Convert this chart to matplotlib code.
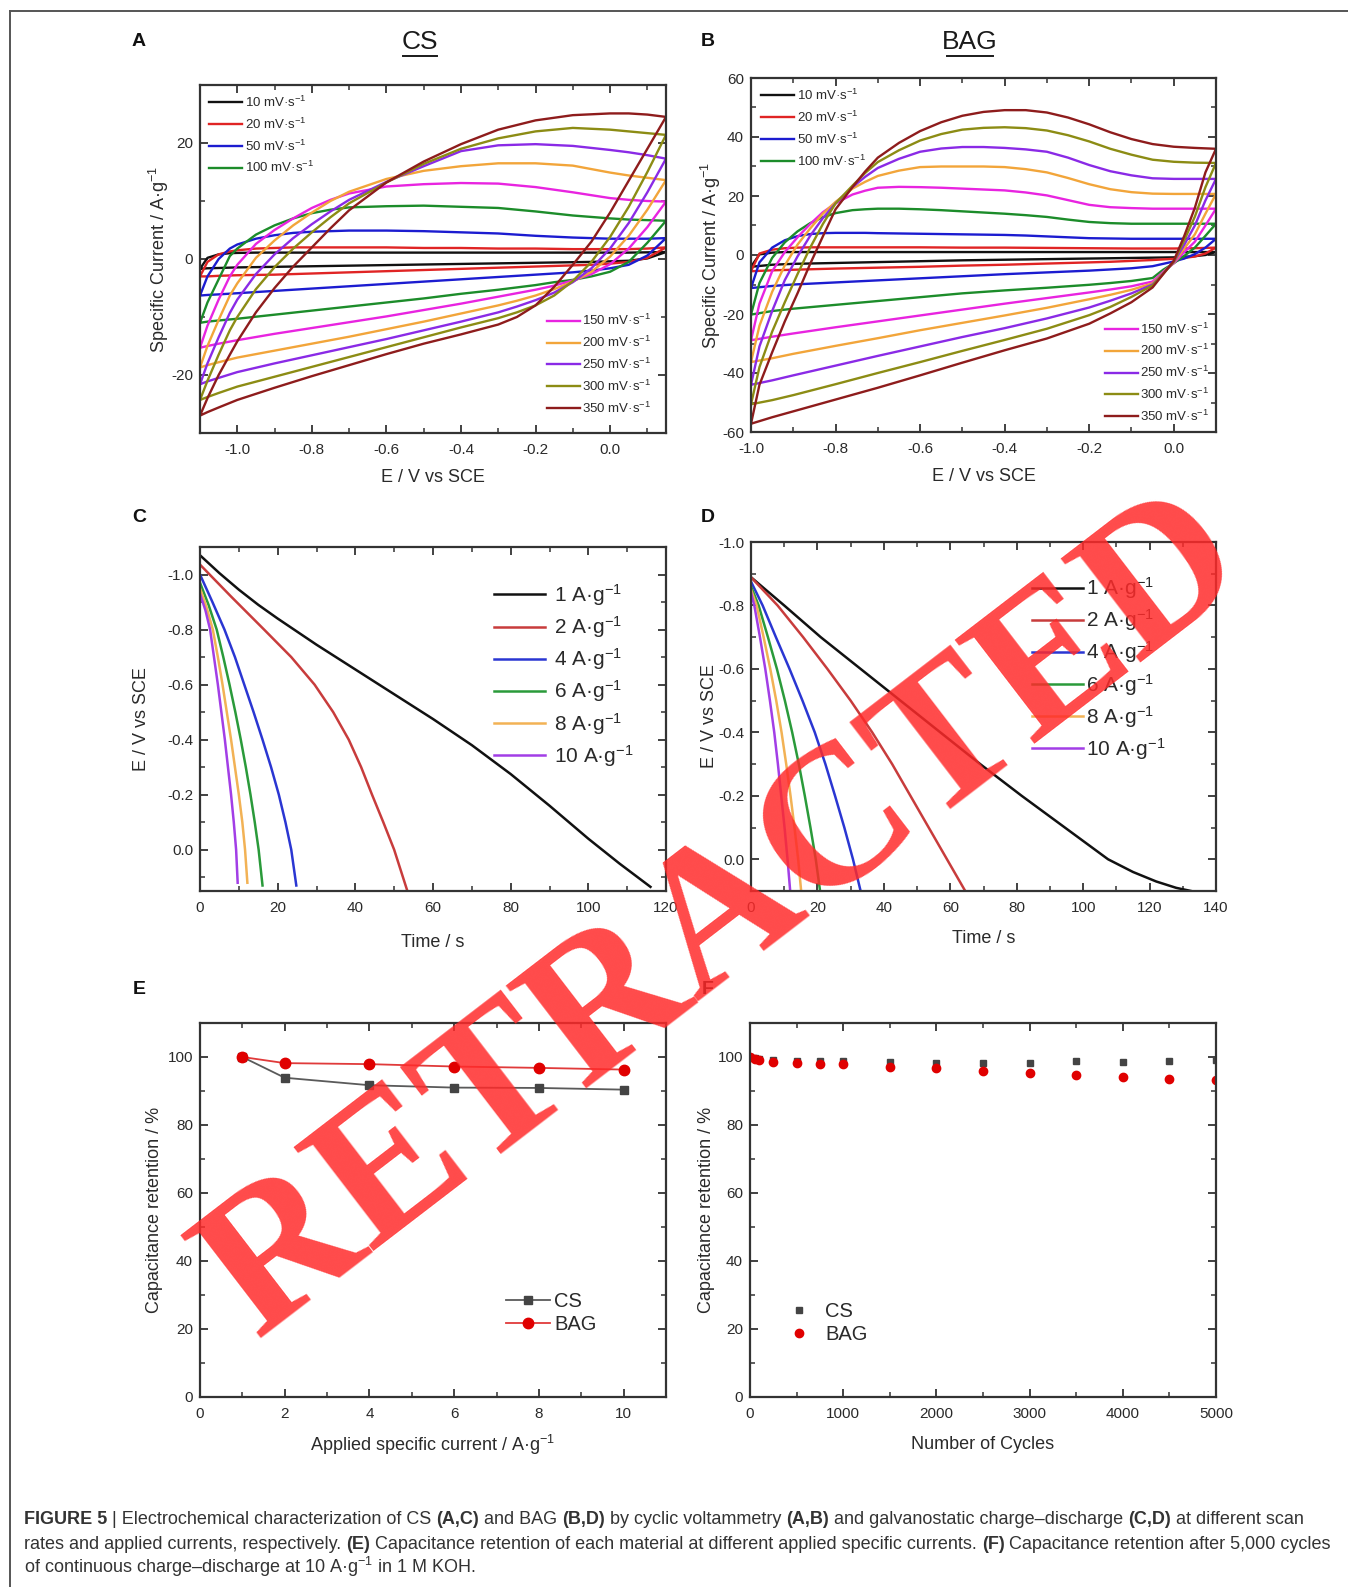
import matplotlib
matplotlib.use('Agg')
import matplotlib.pyplot as plt
from matplotlib.ticker import MultipleLocator, FormatStrFormatter
from matplotlib.lines import Line2D

plt.rcParams['font.family'] = ['Liberation Sans', 'DejaVu Sans']
plt.rcParams['axes.unicode_minus'] = False
plt.rcParams['mathtext.fontset'] = 'custom'
plt.rcParams['mathtext.rm'] = 'Liberation Sans'
plt.rcParams['mathtext.it'] = 'Liberation Sans:italic'
plt.rcParams['mathtext.bf'] = 'Liberation Sans:bold'

# ---------------- data ----------------
SCAN_RATES = [10, 20, 50, 100, 150, 200, 250, 300, 350]
CV_COLORS = ['#111111', '#e02424', '#1c1cd0', '#1c8c2a', '#e824e0', '#f2a53a', '#8a2ae6', '#8c8c14', '#8e1c1c']

# Panel A (CS) cyclic voltammetry
A_V_FWD = [-1.10, -1.08, -1.05, -1.02, -1.00, -0.95, -0.90, -0.85, -0.80, -0.75, -0.70,
           -0.60, -0.50, -0.40, -0.30, -0.20, -0.10, 0.00, 0.05, 0.10, 0.15]
A_V_REV = [0.15, 0.10, 0.05, 0.00, -0.05, -0.10, -0.15, -0.20, -0.25, -0.30, -0.40,
           -0.50, -0.60, -0.70, -0.80, -0.90, -1.00, -1.05, -1.08, -1.10]
A_FWD_10 = [-1.7, 0.2, 0.8, 1.0, 1.05, 1.1, 1.1, 1.1, 1.1, 1.1, 1.1, 1.1, 1.1, 1.1, 1.1, 1.1, 1.1, 1.1, 1.1, 1.15, 1.2]
A_FWD_20 = [-3.0, -0.5, 0.8, 1.3, 1.5, 1.8, 1.9, 2.0, 2.0, 2.0, 2.0, 2.0, 1.9, 1.9, 1.8, 1.8, 1.7, 1.7, 1.7, 1.8, 2.0]
A_FWD_50 = [-6.3, -3.0, 0.0, 1.8, 2.5, 3.5, 4.1, 4.5, 4.7, 4.8, 4.9, 4.9, 4.8, 4.6, 4.4, 4.0, 3.7, 3.5, 3.5, 3.5, 3.6]
A_FWD_100 = [-11.0, -7.5, -3.5, 0.5, 1.8, 4.2, 5.8, 7.0, 7.9, 8.5, 8.9, 9.1, 9.2, 9.0, 8.8, 8.2, 7.5, 7.0, 6.8, 6.7, 6.6]
A_FWD_150 = [-15.3, -11.5, -7.0, -3.0, -1.0, 2.6, 5.0, 7.0, 8.8, 10.2, 11.3, 12.5, 12.9, 13.1, 13.0, 12.4, 11.5, 10.5, 10.2, 10.0, 9.9]
A_FWD_200 = [-18.7, -15.0, -10.5, -6.3, -4.2, 0.2, 3.2, 5.8, 8.0, 10.0, 11.6, 13.8, 15.2, 16.0, 16.5, 16.5, 16.1, 14.9, 14.4, 14.0, 13.6]
A_FWD_250 = [-21.6, -18.0, -13.5, -9.3, -7.0, -2.6, 0.8, 3.6, 6.0, 8.2, 10.2, 13.3, 16.0, 18.6, 19.6, 19.8, 19.5, 18.8, 18.4, 17.9, 17.3]
A_FWD_300 = [-24.3, -21.0, -16.5, -12.3, -10.0, -5.2, -1.4, 1.8, 4.6, 7.2, 9.6, 13.2, 16.4, 19.0, 20.8, 22.0, 22.6, 22.3, 22.0, 21.7, 21.4]
A_FWD_350 = [-27.0, -24.0, -20.0, -16.5, -14.2, -9.2, -5.0, -1.3, 2.0, 5.3, 8.4, 13.2, 16.8, 19.8, 22.3, 23.9, 24.8, 25.1, 25.1, 24.9, 24.5]
A_REV_10 = [1.2, 0.1, -0.3, -0.4, -0.5, -0.55, -0.6, -0.65, -0.7, -0.75, -0.85, -0.95, -1.05, -1.15, -1.25, -1.35, -1.45, -1.55, -1.6, -1.7]
A_REV_20 = [2.0, 0.2, -0.5, -0.8, -1.0, -1.1, -1.2, -1.3, -1.4, -1.5, -1.7, -1.9, -2.1, -2.3, -2.5, -2.7, -2.8, -2.9, -3.0, -3.0]
A_REV_50 = [3.6, 0.6, -1.0, -1.6, -2.0, -2.3, -2.5, -2.7, -2.9, -3.1, -3.5, -3.9, -4.3, -4.7, -5.1, -5.5, -5.9, -6.1, -6.2, -6.3]
A_REV_100 = [6.6, 2.8, -0.5, -2.2, -3.0, -3.6, -4.0, -4.5, -4.9, -5.3, -6.0, -6.8, -7.5, -8.2, -8.9, -9.6, -10.3, -10.6, -10.8, -11.0]
A_REV_150 = [9.9, 5.5, 1.8, -0.9, -2.6, -3.7, -4.6, -5.3, -5.9, -6.5, -7.7, -8.8, -9.9, -10.9, -11.9, -12.9, -14.0, -14.6, -15.0, -15.3]
A_REV_200 = [13.6, 8.5, 4.0, 0.4, -2.2, -3.9, -5.2, -6.3, -7.2, -8.0, -9.4, -10.8, -12.1, -13.4, -14.6, -15.8, -17.0, -17.8, -18.3, -18.7]
A_REV_250 = [17.3, 11.5, 6.2, 1.8, -1.6, -4.0, -5.8, -7.1, -8.2, -9.2, -10.8, -12.3, -13.8, -15.2, -16.6, -18.0, -19.5, -20.5, -21.1, -21.6]
A_REV_300 = [21.4, 15.0, 9.0, 3.8, -0.5, -3.8, -6.3, -8.0, -9.2, -10.2, -11.8, -13.5, -15.2, -16.9, -18.6, -20.3, -22.0, -23.1, -23.8, -24.3]
A_REV_350 = [24.5, 19.0, 13.5, 8.0, 3.0, -1.0, -4.8, -8.0, -10.0, -11.3, -13.0, -14.6, -16.4, -18.3, -20.2, -22.2, -24.3, -25.6, -26.4, -27.0]

# Panel B (BAG) cyclic voltammetry
B_V_FWD = [-1.00, -0.98, -0.95, -0.92, -0.89, -0.86, -0.83, -0.80, -0.76, -0.73, -0.70, -0.65, -0.60, -0.55,
           -0.50, -0.45, -0.40, -0.35, -0.30, -0.25, -0.20, -0.15, -0.10, -0.05, 0.00, 0.05, 0.10]
B_V_REV = [0.10, 0.075, 0.05, 0.025, 0.00, -0.025, -0.05, -0.10, -0.15, -0.20,
           -0.30, -0.40, -0.50, -0.60, -0.70, -0.80, -0.90, -0.95, -1.00]
B_FWD_10 = [-4.0, 0.2, 0.8, 1.0, 1.0, 1.0, 1.0, 1.0, 1.0, 1.0, 1.0, 1.0, 1.0, 1.0,
            1.0, 1.0, 1.0, 1.0, 1.0, 1.0, 1.0, 1.0, 1.0, 1.0, 1.0, 1.0, 1.0]
B_FWD_20 = [-5.5, 0.5, 1.8, 2.3, 2.5, 2.6, 2.6, 2.6, 2.6, 2.6, 2.6, 2.6, 2.6, 2.55,
            2.5, 2.5, 2.5, 2.45, 2.4, 2.35, 2.3, 2.25, 2.2, 2.2, 2.2, 2.3, 2.5]
B_FWD_50 = [-11.2, -2.5, 2.5, 5.0, 6.4, 7.1, 7.4, 7.5, 7.5, 7.5, 7.4, 7.3, 7.2, 7.1,
            7.0, 6.9, 6.8, 6.6, 6.3, 6.0, 5.7, 5.6, 5.5, 5.5, 5.5, 5.5, 5.5]
B_FWD_100 = [-20.2, -9.5, -1.0, 4.3, 8.0, 10.8, 12.8, 14.2, 15.2, 15.5, 15.7, 15.7, 15.5, 15.2,
             14.8, 14.4, 14.0, 13.5, 12.9, 12.0, 11.2, 10.8, 10.6, 10.6, 10.6, 10.6, 10.6]
B_FWD_150 = [-28.9, -16.5, -5.5, 1.0, 6.0, 10.5, 14.5, 17.5, 20.5, 21.8, 22.8, 23.1, 23.0, 22.8,
             22.5, 22.2, 21.9, 21.2, 20.2, 18.6, 17.0, 16.2, 15.9, 15.7, 15.7, 15.7, 15.7]
B_FWD_200 = [-36.3, -24.0, -12.5, -3.5, 3.5, 9.0, 14.0, 18.0, 22.5, 24.8, 26.8, 28.6, 29.8, 30.0,
             30.0, 30.0, 29.8, 29.1, 28.0, 26.1, 24.0, 22.3, 21.3, 20.8, 20.7, 20.7, 20.7]
B_FWD_250 = [-44.0, -31.0, -19.0, -8.5, -0.5, 6.5, 12.5, 17.5, 23.0, 26.5, 29.5, 32.6, 35.0, 36.1,
             36.6, 36.6, 36.3, 35.8, 35.0, 33.0, 30.5, 28.4, 27.0, 26.0, 25.8, 25.8, 25.8]
B_FWD_300 = [-50.6, -38.0, -26.0, -16.0, -6.5, 2.5, 10.5, 17.5, 23.5, 27.8, 31.5, 35.5, 38.8, 41.0,
             42.5, 43.1, 43.3, 43.0, 42.2, 40.6, 38.5, 36.0, 34.0, 32.3, 31.6, 31.3, 31.2]
B_FWD_350 = [-57.2, -44.0, -33.0, -22.5, -13.0, -3.0, 6.3, 15.5, 23.0, 28.3, 33.0, 38.0, 42.0, 45.0,
             47.2, 48.5, 49.1, 49.1, 48.3, 46.6, 44.3, 41.6, 39.3, 37.6, 36.7, 36.3, 36.0]
B_REV_10 = [1.0, 0.0, -0.4, -0.6, -0.8, -0.85, -0.9, -1.0, -1.1, -1.2, -1.4, -1.6, -1.8, -2.1, -2.4, -2.7, -3.0, -3.3, -4.0]
B_REV_20 = [2.5, 0.5, -0.5, -1.0, -1.3, -1.5, -1.7, -2.0, -2.3, -2.5, -2.9, -3.3, -3.6, -4.0, -4.3, -4.6, -5.0, -5.2, -5.5]
B_REV_50 = [5.5, 2.5, 0.3, -1.2, -2.2, -3.0, -3.8, -4.5, -4.9, -5.3, -5.9, -6.5, -7.2, -7.9, -8.6, -9.3, -10.0, -10.5, -11.2]
B_REV_100 = [10.6, 6.5, 2.5, -0.3, -2.8, -5.0, -7.8, -8.8, -9.5, -10.1, -11.1, -12.0, -13.0, -14.3, -15.6, -16.9, -18.2, -19.0, -20.2]
B_REV_150 = [15.7, 10.0, 4.5, 1.0, -2.8, -5.7, -9.0, -10.6, -11.7, -12.7, -14.6, -16.5, -18.5, -20.5, -22.5, -24.5, -26.6, -27.7, -28.9]
B_REV_200 = [20.7, 14.0, 7.0, 2.2, -2.6, -6.0, -9.6, -11.8, -13.5, -15.0, -17.9, -20.5, -23.0, -25.5, -28.2, -30.8, -33.5, -35.0, -36.3]
B_REV_250 = [25.8, 18.5, 10.0, 3.5, -2.5, -6.2, -10.0, -13.0, -15.5, -17.8, -21.5, -24.8, -27.8, -31.0, -34.2, -37.5, -40.8, -42.5, -44.0]
B_REV_300 = [31.2, 23.0, 13.0, 5.0, -2.3, -6.4, -10.3, -14.2, -17.6, -20.4, -25.0, -28.8, -32.5, -36.3, -40.0, -43.8, -47.5, -49.2, -50.6]
B_REV_350 = [36.0, 28.0, 16.0, 6.5, -2.0, -6.5, -11.0, -16.0, -19.8, -23.3, -28.3, -32.3, -36.5, -40.8, -45.0, -49.0, -53.0, -55.0, -57.2]

# Galvanostatic discharge
CURRENTS = [1, 2, 4, 6, 8, 10]
GCD_COLORS = ['#111111', '#c83c3c', '#2a36d2', '#2a9a3a', '#f2b255', '#a23ee6']
C_T_1 = [0, 5, 10, 15, 20, 30, 40, 50, 60, 70, 80, 90, 100, 108, 116]
C_E_1 = [-1.07, -1.005, -0.945, -0.89, -0.84, -0.745, -0.655, -0.565, -0.475, -0.38, -0.275, -0.16, -0.04, 0.05, 0.135]
C_T_2 = [0, 8, 16.5, 23.5, 29.5, 34.3, 38.3, 41.5, 44.3, 47.2, 50.0, 53.4]
C_E_2 = [-1.036, -0.92, -0.8, -0.7, -0.6, -0.5, -0.4, -0.3, -0.2, -0.1, 0.0, 0.15]
C_T_4 = [0, 3.2, 6.3, 9.0, 11.4, 13.8, 16.1, 18.3, 20.3, 22.0, 23.5, 24.8]
C_E_4 = [-1.0, -0.9, -0.8, -0.7, -0.6, -0.5, -0.4, -0.3, -0.2, -0.1, 0.0, 0.13]
C_T_6 = [0, 2.2, 4.3, 6.0, 7.6, 9.1, 10.5, 11.8, 13.0, 14.1, 15.1, 16.1]
C_E_6 = [-0.97, -0.89, -0.8, -0.7, -0.6, -0.5, -0.4, -0.3, -0.2, -0.1, 0.0, 0.13]
C_T_8 = [0, 1.7, 3.3, 4.6, 5.8, 6.9, 8.0, 9.0, 10.0, 10.9, 11.6, 12.2]
C_E_8 = [-0.95, -0.88, -0.8, -0.7, -0.6, -0.5, -0.4, -0.3, -0.2, -0.1, 0.0, 0.12]
C_T_10 = [0, 1.4, 2.6, 3.6, 4.6, 5.5, 6.4, 7.2, 8.0, 8.7, 9.3, 9.7]
C_E_10 = [-0.93, -0.87, -0.8, -0.7, -0.6, -0.5, -0.4, -0.3, -0.2, -0.1, 0.0, 0.12]

D_T_1 = [0, 10, 21, 33, 45, 57, 69, 81.5, 94.5, 107.5, 115, 122, 128, 132.5]
D_E_1 = [-0.889, -0.8, -0.7, -0.6, -0.5, -0.4, -0.3, -0.2, -0.1, 0.0, 0.04, 0.07, 0.09, 0.1]
D_T_2 = [0, 8, 15.7, 23, 30, 36.5, 42.5, 48, 53.5, 59, 64.5]
D_E_2 = [-0.889, -0.8, -0.7, -0.6, -0.5, -0.4, -0.3, -0.2, -0.1, 0.0, 0.1]
D_T_4 = [0, 3.5, 7.5, 11.6, 15.5, 19.2, 22.4, 25.3, 28.1, 30.7, 33.0]
D_E_4 = [-0.875, -0.8, -0.7, -0.6, -0.5, -0.4, -0.3, -0.2, -0.1, 0.0, 0.1]
D_T_6 = [0, 2.3, 5.1, 7.8, 10.2, 12.4, 14.4, 16.2, 17.9, 19.5, 20.8]
D_E_6 = [-0.86, -0.8, -0.7, -0.6, -0.5, -0.4, -0.3, -0.2, -0.1, 0.0, 0.1]
D_T_8 = [0, 1.7, 3.8, 5.8, 7.6, 9.2, 10.6, 11.9, 13.1, 14.2, 15.1]
D_E_8 = [-0.85, -0.8, -0.7, -0.6, -0.5, -0.4, -0.3, -0.2, -0.1, 0.0, 0.1]
D_T_10 = [0, 1.0, 2.7, 4.3, 5.7, 7.0, 8.1, 9.1, 10.1, 11.0, 11.8]
D_E_10 = [-0.84, -0.8, -0.7, -0.6, -0.5, -0.4, -0.3, -0.2, -0.1, 0.0, 0.1]

# Capacitance retention vs current
E_CURRENT = [1, 2, 4, 6, 8, 10]
E_CS = [100, 93.9, 91.7, 91.0, 90.9, 90.4]
E_BAG = [100, 98.2, 97.9, 97.2, 96.8, 96.3]

# Cycling stability
F_CYCLES = [0, 50, 100, 250, 500, 750, 1000, 1500, 2000, 2500, 3000, 3500, 4000, 4500, 5000]
F_CS = [100, 99.6, 99.3, 99.0, 98.9, 98.9, 98.8, 98.5, 98.2, 98.2, 98.2, 98.8, 98.6, 98.9, 99.2]
F_BAG = [100, 99.5, 99.2, 98.6, 98.1, 98.0, 97.9, 97.2, 96.8, 96.0, 95.3, 94.6, 94.1, 93.6, 93.1]

# ---------------- layout ----------------
W, H = 1348, 1587
fig = plt.figure(figsize=(W / 100, H / 100), dpi=100)
TXT = '#2a2a2a'


def rect(l, t, r, b):
    return [l / W, 1 - b / H, (r - l) / W, (b - t) / H]


def style(ax, xmaj, xmin, ymaj, ymin, fmtx=None, fmty=None):
    ax.xaxis.set_major_locator(MultipleLocator(xmaj))
    ax.xaxis.set_minor_locator(MultipleLocator(xmin))
    ax.yaxis.set_major_locator(MultipleLocator(ymaj))
    ax.yaxis.set_minor_locator(MultipleLocator(ymin))
    if fmtx:
        ax.xaxis.set_major_formatter(FormatStrFormatter(fmtx))
    if fmty:
        ax.yaxis.set_major_formatter(FormatStrFormatter(fmty))
    ax.tick_params(which='both', direction='in', top=True, right=True, colors='#333333',
                   labelcolor=TXT, labelsize=11)
    ax.tick_params(which='major', length=6, width=1.3, pad=5)
    ax.tick_params(axis='x', which='major', pad=7)
    ax.tick_params(which='minor', length=3.5, width=1.1)
    for s in ax.spines.values():
        s.set_linewidth(1.6)
        s.set_color('#333333')


def flabel(x, y, s):
    fig.text(x / W, 1 - y / H, s, fontsize=14, fontweight='bold', ha='center', va='center', color='#111111')


# --- A ---
axA = fig.add_axes(rect(200, 85, 666, 433))
A_FWD = [A_FWD_10, A_FWD_20, A_FWD_50, A_FWD_100, A_FWD_150, A_FWD_200, A_FWD_250, A_FWD_300, A_FWD_350]
A_REV = [A_REV_10, A_REV_20, A_REV_50, A_REV_100, A_REV_150, A_REV_200, A_REV_250, A_REV_300, A_REV_350]
hA = []
for rate, col, f, r in zip(SCAN_RATES, CV_COLORS, A_FWD, A_REV):
    ln, = axA.plot(A_V_FWD + A_V_REV, f + r, color=col, lw=1.7, label='%d mV·s$^{-1}$' % rate)
    hA.append(ln)
axA.set_xlim(-1.1, 0.15)
axA.set_ylim(-30, 30)
style(axA, 0.2, 0.1, 20, 10, fmtx='%.1f')
axA.set_xlabel('E / V vs SCE', fontsize=13, color=TXT, labelpad=9)
axA.set_ylabel('Specific Current / A·g$^{-1}$', fontsize=13, color=TXT, labelpad=0)

# --- B ---
axB = fig.add_axes(rect(751, 78, 1216, 432))
B_FWD = [B_FWD_10, B_FWD_20, B_FWD_50, B_FWD_100, B_FWD_150, B_FWD_200, B_FWD_250, B_FWD_300, B_FWD_350]
B_REV = [B_REV_10, B_REV_20, B_REV_50, B_REV_100, B_REV_150, B_REV_200, B_REV_250, B_REV_300, B_REV_350]
hB = []
for rate, col, f, r in zip(SCAN_RATES, CV_COLORS, B_FWD, B_REV):
    ln, = axB.plot(B_V_FWD + B_V_REV, f + r, color=col, lw=1.7, label='%d mV·s$^{-1}$' % rate)
    hB.append(ln)
axB.set_xlim(-1.0, 0.1)
axB.set_ylim(-60, 60)
style(axB, 0.2, 0.1, 20, 10, fmtx='%.1f')
axB.set_xlabel('E / V vs SCE', fontsize=13, color=TXT, labelpad=9)
axB.set_ylabel('Specific Current / A·g$^{-1}$', fontsize=13, color=TXT, labelpad=-1)

for ax, h, up, lo in [(axA, hA, (0.020, 0.972), (0.744, 0.05)), (axB, hB, (0.0215, 0.972), (0.761, 0.023))]:
    l1 = ax.legend(h[:4], [x.get_label() for x in h[:4]], loc='upper left', bbox_to_anchor=up,
                   frameon=False, fontsize=9.5, handlelength=2.5, handletextpad=0.2,
                   labelspacing=0.5, borderpad=0, borderaxespad=0, labelcolor=TXT)
    ax.add_artist(l1)
    ax.legend(h[4:], [x.get_label() for x in h[4:]], loc='lower left', bbox_to_anchor=lo,
              frameon=False, fontsize=9.5, handlelength=2.5, handletextpad=0.2,
              labelspacing=0.5, borderpad=0, borderaxespad=0, labelcolor=TXT)

# --- C ---
axC = fig.add_axes(rect(200, 547, 666, 891))
C_T = [C_T_1, C_T_2, C_T_4, C_T_6, C_T_8, C_T_10]
C_E = [C_E_1, C_E_2, C_E_4, C_E_6, C_E_8, C_E_10]
for cur, col, t, e in zip(CURRENTS, GCD_COLORS, C_T, C_E):
    axC.plot(t, e, color=col, lw=1.8, label='%d A·g$^{-1}$' % cur)
axC.set_xlim(0, 120)
axC.set_ylim(0.15, -1.1)
style(axC, 20, 10, 0.2, 0.1, fmty='%.1f')
axC.set_xlabel('Time / s', fontsize=13, color=TXT, labelpad=14)
axC.set_ylabel('E / V vs SCE', fontsize=13, color=TXT, labelpad=12)
axC.legend(loc='upper left', bbox_to_anchor=(0.631, 0.898), frameon=False, fontsize=15,
           handlelength=2.45, handletextpad=0.45, labelspacing=0.3, borderpad=0, borderaxespad=0,
           labelcolor=TXT)

# --- D ---
axD = fig.add_axes(rect(751, 542, 1216, 891))
D_T = [D_T_1, D_T_2, D_T_4, D_T_6, D_T_8, D_T_10]
D_E = [D_E_1, D_E_2, D_E_4, D_E_6, D_E_8, D_E_10]
for cur, col, t, e in zip(CURRENTS, GCD_COLORS, D_T, D_E):
    axD.plot(t, e, color=col, lw=1.8, label='%d A·g$^{-1}$' % cur)
axD.set_xlim(0, 140)
axD.set_ylim(0.1, -1.0)
style(axD, 20, 10, 0.2, 0.1, fmty='%.1f')
axD.set_xlabel('Time / s', fontsize=13, color=TXT, labelpad=11)
axD.set_ylabel('E / V vs SCE', fontsize=13, color=TXT, labelpad=0)
axD.legend(loc='upper left', bbox_to_anchor=(0.604, 0.905), frameon=False, fontsize=15,
           handlelength=2.45, handletextpad=0.15, labelspacing=0.3, borderpad=0, borderaxespad=0,
           labelcolor=TXT)

# --- E ---
axE = fig.add_axes(rect(200, 1023, 666, 1397))
axE.plot(E_CURRENT, E_CS, color='#5a5a5a', lw=1.3, marker='s', ms=5.5, mfc='#444444', mec='#444444', label='CS')
axE.plot(E_CURRENT, E_BAG, color='#e03a3a', lw=1.3, marker='o', ms=7.5, mfc='#e00000', mec='#e00000', label='BAG')
axE.set_xlim(0, 11)
axE.set_ylim(0, 110)
style(axE, 2, 1, 20, 10)
axE.set_xlabel('Applied specific current / A·g$^{-1}$', fontsize=13, color=TXT, labelpad=9)
axE.set_ylabel('Capacitance retention / %', fontsize=13, color=TXT, labelpad=3)
axE.legend(loc='lower left', bbox_to_anchor=(0.657, 0.168), frameon=False, fontsize=14.5,
           handlelength=2.2, handletextpad=0.2, labelspacing=0.2, borderpad=0, borderaxespad=0,
           labelcolor=TXT)

# --- F ---
axF = fig.add_axes(rect(750, 1023, 1216, 1397))
axF.plot(F_CYCLES, F_CS, ls='none', marker='s', ms=5, mfc='#444444', mec='#444444', label='CS')
axF.plot(F_CYCLES, F_BAG, ls='none', marker='o', ms=6, mfc='#e00000', mec='#e00000', label='BAG')
axF.set_xlim(0, 5000)
axF.set_ylim(0, 110)
style(axF, 1000, 500, 20, 10)
axF.set_xlabel('Number of Cycles', fontsize=13, color=TXT, labelpad=11)
axF.set_ylabel('Capacitance retention / %', fontsize=13, color=TXT, labelpad=2)
axF.legend(loc='lower left', bbox_to_anchor=(0.084, 0.142), frameon=False, fontsize=14.5,
           handlelength=1.0, handletextpad=0.8, labelspacing=0.2, borderpad=0, borderaxespad=0,
           numpoints=1, labelcolor=TXT)

# panel letters & titles
flabel(139, 41, 'A')
flabel(708, 41, 'B')
flabel(139, 518, 'C')
flabel(708, 518, 'D')
flabel(139, 990, 'E')
flabel(708, 990, 'F')
for x, s in [(420, 'CS'), (970, 'BAG')]:
    fig.text(x / W, 1 - 42 / H, s, fontsize=19, ha='center', va='center', color='#1a1a1a')
    fig.add_artist(Line2D([(x - 0.5 * len(s) * 13 - 4) / W, (x + 0.5 * len(s) * 13 + 4) / W],
                          [1 - 56 / H, 1 - 56 / H], color='#1a1a1a', lw=1.4))

# frame lines
fig.add_artist(Line2D([10 / W, 1.0], [1 - 11 / H, 1 - 11 / H], color='#555555', lw=1.4))
fig.add_artist(Line2D([10 / W, 10 / W], [1 - 11 / H, 0.0], color='#555555', lw=1.4))

# caption
CAP_FAMILY = ['Liberation Sans Narrow', 'Liberation Sans', 'DejaVu Sans']
CAP_LINES = [
    [('FIGURE 5', True), (' | Electrochemical characterization of CS ', False), ('(A,C)', True),
     (' and BAG ', False), ('(B,D)', True), (' by cyclic voltammetry ', False), ('(A,B)', True),
     (' and galvanostatic charge–discharge ', False), ('(C,D)', True), (' at different scan', False)],
    [('rates and applied currents, respectively. ', False), ('(E)', True),
     (' Capacitance retention of each material at different applied specific currents. ', False),
     ('(F)', True), (' Capacitance retention after 5,000 cycles', False)],
    [('of continuous charge–discharge at 10 A·g$^{-1}$ in 1 M KOH.', False)],
]
renderer = fig.canvas.get_renderer()


def run_width(runs, size):
    tot = 0
    for s, b in runs:
        t = fig.text(0, 0, s, fontsize=size, fontweight='bold' if b else 'normal', family=CAP_FAMILY)
        tot += t.get_window_extent(renderer).width
        t.remove()
    return tot


base = 12.0
cap_size = base * 1284.0 / run_width(CAP_LINES[0], base)
for runs, yb in zip(CAP_LINES, [1524, 1549, 1573]):
    x = 24
    for s, b in runs:
        t = fig.text(x / W, 1 - yb / H, s, fontsize=cap_size, fontweight='bold' if b else 'normal',
                     family=CAP_FAMILY, ha='left', va='baseline', color='#333333')
        x += t.get_window_extent(renderer).width

# watermark
fig.text(725 / W, 1 - 918 / H, 'RETRACTED', fontsize=144, family=['Liberation Serif', 'DejaVu Serif'],
         fontweight='bold', color='#ff2a2a', alpha=0.85, rotation=37.5, ha='center', va='center',
         rotation_mode='anchor', zorder=100)

fig.savefig('out.png', dpi=100)
